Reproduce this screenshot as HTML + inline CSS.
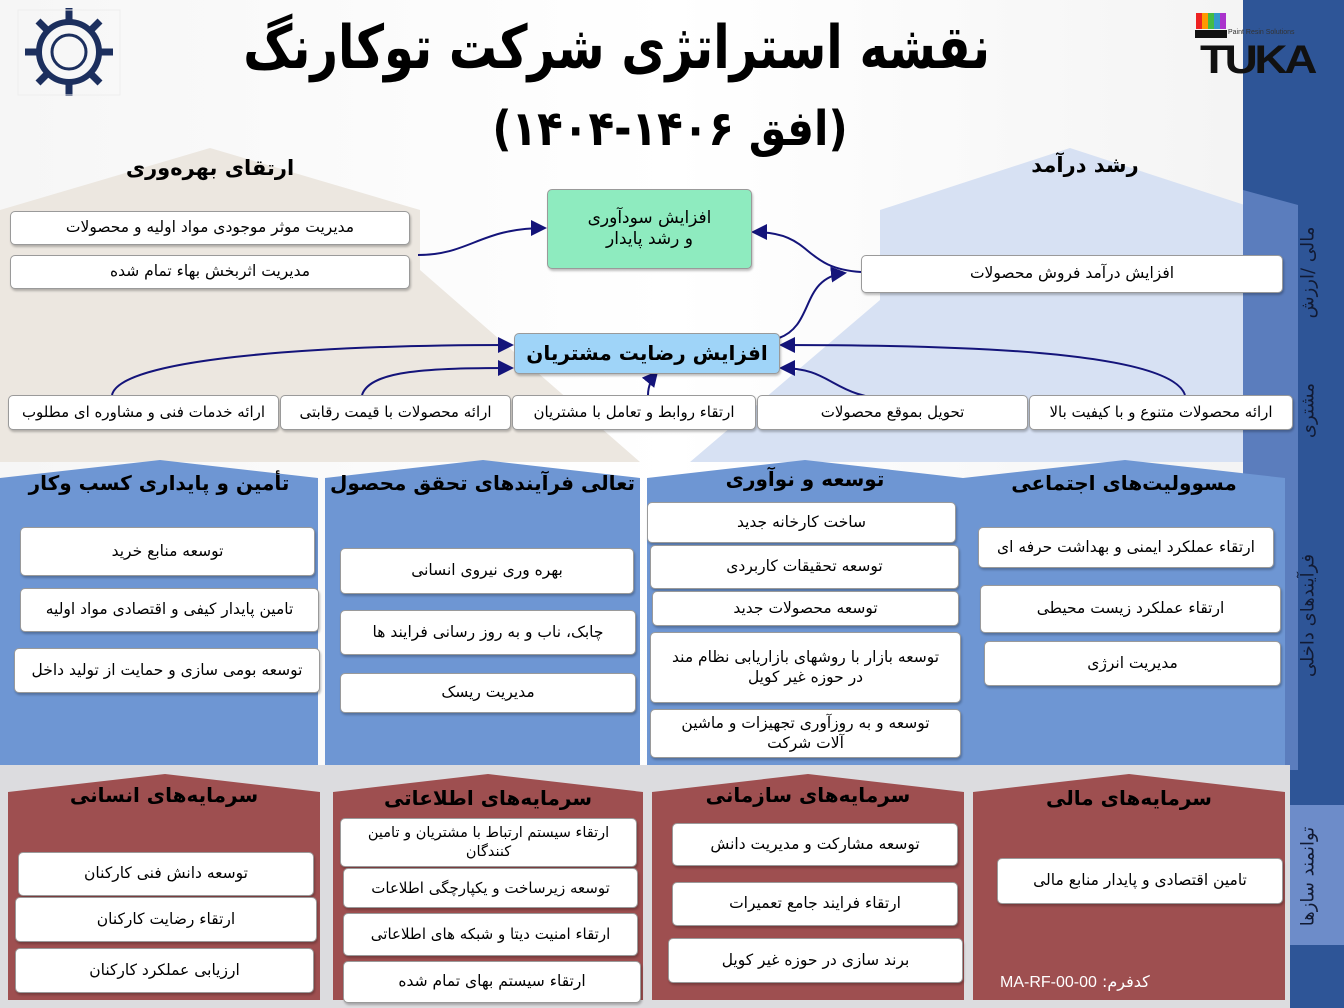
<!DOCTYPE html>
<html><head><meta charset="utf-8"><style>
body{margin:0;width:1344px;height:1008px;overflow:hidden;position:relative;font-family:"DejaVu Sans",sans-serif;background:linear-gradient(90deg,#f6f6f6,#ffffff 50%,#f2f2f2);}
.b{position:absolute;background:#fff;border:1px solid #9a9a9a;border-radius:5px;box-shadow:1px 2px 2px rgba(0,0,0,.25);display:flex;align-items:center;justify-content:center;text-align:center;direction:rtl;font-size:15.5px;color:#000;line-height:1.25;box-sizing:border-box;padding:0 4px;}
.h{position:absolute;direction:rtl;text-align:center;font-weight:bold;color:#000;white-space:nowrap;}
.v{position:absolute;transform:rotate(-90deg);transform-origin:center;white-space:nowrap;direction:rtl;font-size:18px;color:#111a33;}
</style></head><body>
<svg width="1344" height="1008" style="position:absolute;left:0;top:0">
<polygon points="0,210 210,148 420,210 420,270 640,462 0,462" fill="#ece7e0"/>
<polygon points="880,210 1070,148 1260,210 1260,462 690,462 880,300" fill="#d7e1f3"/>
<rect x="1243" y="0" width="101" height="1008" fill="#2e5597"/>
<polygon points="1243,190 1298,205 1298,770 1243,770" fill="#5b7dbd"/>
<rect x="1290" y="805" width="54" height="140" fill="#6d8cc9"/>
<rect x="0" y="765" width="1290" height="243" fill="#dcdcdf"/>
<polygon points="0,478 160,460 318,478 318,765 0,765" fill="#6e96d3"/>
<polygon points="325,478 483,460 640,478 640,765 325,765" fill="#6e96d3"/>
<polygon points="647,478 805,460 963,478 963,765 647,765" fill="#6e96d3"/>
<polygon points="963,478 1125,460 1285,478 1285,765 963,765" fill="#6e96d3"/>
<polygon points="8,792 165,774 320,792 320,1000 8,1000" fill="#9e4f50"/>
<polygon points="333,792 488,774 643,792 643,1000 333,1000" fill="#9e4f50"/>
<polygon points="652,792 808,774 964,792 964,1000 652,1000" fill="#9e4f50"/>
<polygon points="973,792 1129,774 1285,792 1285,1000 973,1000" fill="#9e4f50"/>
<defs><marker id="a" markerWidth="8" markerHeight="8" refX="7" refY="4" orient="auto"><path d="M0,0 L8,4 L0,8 z" fill="#14147a"/></marker></defs>
<g stroke="#14147a" stroke-width="2" fill="none" marker-end="url(#a)">
<path d="M418,255 C470,255 480,228 545,228"/>
<path d="M861,272 C800,268 815,232 753,232"/>
<path d="M779,338 C815,325 800,278 845,273"/>
<path d="M112,395 C120,360 300,345 512,345"/>
<path d="M362,395 C370,370 430,368 512,368"/>
<path d="M648,395 C648,385 652,378 657,372"/>
<path d="M1185,395 C1170,350 950,345 781,345"/>
<path d="M898,400 C830,398 835,368 781,368"/>
</g>
<g transform="translate(69,52)" fill="none" stroke="#1c2f5e" stroke-width="6">
<circle r="30"/><circle r="17" stroke-width="3"/>
<path d="M0,-44V-30M0,44V30M-44,0H-30M44,0H30M-31,-31L-21,-21M31,31L21,21M-31,31L-21,21M31,-31L21,-21" stroke-width="7"/>
</g>
<rect x="18" y="10" width="102" height="85" fill="none" stroke="#eee"/>
<rect x="1196" y="13" width="6" height="16" fill="#e22"/><rect x="1202" y="13" width="6" height="16" fill="#f90"/><rect x="1208" y="13" width="6" height="16" fill="#4b4"/><rect x="1214" y="13" width="6" height="16" fill="#39c"/><rect x="1220" y="13" width="6" height="16" fill="#a3c"/>
<rect x="1195" y="30" width="32" height="8" fill="#111"/>
</svg>
<div style="position:absolute;left:1200px;top:38px;font:bold 40px 'Liberation Sans',sans-serif;color:#111;letter-spacing:-3px;transform:scaleX(1.15);transform-origin:left">TUKA</div>
<div style="position:absolute;left:1228px;top:29px;font:7px 'Liberation Sans',sans-serif;color:#333">Paint Resin Solutions</div>

<div class="h" style="left:270px;top:20px;width:720px;font-size:48px;transform:scaleY(1.25)">نقشه استراتژی شرکت توکارنگ</div>
<div class="h" style="left:440px;top:104px;width:460px;font-size:42px;transform:scaleY(1.15)">(افق ۱۴۰۶-۱۴۰۴)</div>
<div class="h" style="left:60px;top:156px;width:300px;font-size:21px">ارتقای بهره‌وری</div>
<div class="h" style="left:935px;top:153px;width:300px;font-size:21px">رشد درآمد</div>

<div class="b" style="left:10px;top:211px;width:400px;height:34px">مدیریت موثر موجودی مواد اولیه و محصولات</div>
<div class="b" style="left:10px;top:255px;width:400px;height:34px">مدیریت اثربخش بهاء تمام شده</div>
<div class="b" style="left:547px;top:189px;width:205px;height:80px;background:#8eebbf;font-size:17px">افزایش سودآوری<br>و رشد پایدار</div>
<div class="b" style="left:861px;top:255px;width:422px;height:38px">افزایش درآمد فروش محصولات</div>
<div class="b" style="left:514px;top:333px;width:266px;height:41px;background:#9fd4f8;font-size:20px;font-weight:bold">افزایش رضایت مشتریان</div>
<div class="b" style="left:8px;top:395px;width:271px;height:35px;font-size:15px">ارائه خدمات فنی و مشاوره ای مطلوب</div>
<div class="b" style="left:280px;top:395px;width:231px;height:35px;font-size:15px">ارائه محصولات با قیمت رقابتی</div>
<div class="b" style="left:512px;top:395px;width:244px;height:35px;font-size:15px">ارتقاء روابط و تعامل با مشتریان</div>
<div class="b" style="left:757px;top:395px;width:271px;height:35px;font-size:15px">تحویل بموقع محصولات</div>
<div class="b" style="left:1029px;top:395px;width:264px;height:35px;font-size:15px">ارائه محصولات متنوع و با کیفیت بالا</div>

<div class="h" style="left:0;top:471px;width:318px;font-size:20px">تأمین و پایداری کسب وکار</div>
<div class="h" style="left:325px;top:471px;width:315px;font-size:20px">تعالی فرآیندهای تحقق محصول</div>
<div class="h" style="left:647px;top:467px;width:316px;font-size:20px">توسعه و نوآوری</div>
<div class="h" style="left:963px;top:471px;width:322px;font-size:20px">مسوولیت‌های اجتماعی</div>

<div class="b" style="left:20px;top:527px;width:295px;height:49px">توسعه منابع خرید</div>
<div class="b" style="left:20px;top:588px;width:299px;height:44px">تامین پایدار کیفی و اقتصادی مواد اولیه</div>
<div class="b" style="left:14px;top:648px;width:306px;height:45px">توسعه بومی سازی و حمایت از تولید داخل</div>
<div class="b" style="left:340px;top:548px;width:294px;height:46px">بهره وری نیروی انسانی</div>
<div class="b" style="left:340px;top:610px;width:296px;height:45px">چابک، ناب و به روز رسانی فرایند ها</div>
<div class="b" style="left:340px;top:673px;width:296px;height:40px">مدیریت ریسک</div>
<div class="b" style="left:647px;top:502px;width:309px;height:41px">ساخت کارخانه جدید</div>
<div class="b" style="left:650px;top:545px;width:309px;height:44px">توسعه تحقیقات کاربردی</div>
<div class="b" style="left:652px;top:591px;width:307px;height:35px">توسعه محصولات جدید</div>
<div class="b" style="left:650px;top:632px;width:311px;height:71px">توسعه بازار با روشهای بازاریابی نظام مند<br>در حوزه غیر کویل</div>
<div class="b" style="left:650px;top:709px;width:311px;height:49px">توسعه و به روزآوری تجهیزات و ماشین<br>آلات شرکت</div>
<div class="b" style="left:978px;top:527px;width:296px;height:41px">ارتقاء عملکرد ایمنی و بهداشت حرفه ای</div>
<div class="b" style="left:980px;top:585px;width:301px;height:48px">ارتقاء عملکرد زیست محیطی</div>
<div class="b" style="left:984px;top:641px;width:297px;height:45px">مدیریت انرژی</div>

<div class="h" style="left:8px;top:783px;width:312px;font-size:20px">سرمایه‌های انسانی</div>
<div class="h" style="left:333px;top:786px;width:310px;font-size:20px">سرمایه‌های اطلاعاتی</div>
<div class="h" style="left:652px;top:783px;width:312px;font-size:20px">سرمایه‌های سازمانی</div>
<div class="h" style="left:973px;top:786px;width:312px;font-size:20px">سرمایه‌های مالی</div>

<div class="b" style="left:18px;top:852px;width:296px;height:44px">توسعه  دانش فنی کارکنان</div>
<div class="b" style="left:15px;top:897px;width:302px;height:45px">ارتقاء رضایت کارکنان</div>
<div class="b" style="left:15px;top:948px;width:299px;height:45px">ارزیابی عملکرد کارکنان</div>
<div class="b" style="left:340px;top:818px;width:297px;height:49px;font-size:14.5px">ارتقاء سیستم ارتباط با مشتریان و تامین<br>کنندگان</div>
<div class="b" style="left:343px;top:868px;width:295px;height:40px;font-size:15px">توسعه زیرساخت و یکپارچگی اطلاعات</div>
<div class="b" style="left:343px;top:913px;width:295px;height:43px;font-size:15px">ارتقاء امنیت دیتا و شبکه های اطلاعاتی</div>
<div class="b" style="left:343px;top:961px;width:298px;height:42px">ارتقاء سیستم بهای تمام شده</div>
<div class="b" style="left:672px;top:823px;width:286px;height:43px">توسعه مشارکت و مدیریت دانش</div>
<div class="b" style="left:672px;top:882px;width:286px;height:44px">ارتقاء فرایند جامع تعمیرات</div>
<div class="b" style="left:668px;top:938px;width:295px;height:45px">برند سازی در حوزه غیر کویل</div>
<div class="b" style="left:997px;top:858px;width:286px;height:46px">تامین اقتصادی و پایدار منابع مالی</div>
<div style="position:absolute;left:1000px;top:972px;font-size:16px;color:#fff;direction:rtl;white-space:nowrap">کدفرم: <span style="font-family:'Liberation Sans'">MA-RF-00-00</span></div>

<div class="v" style="left:1258px;top:262px;width:100px;text-align:center">مالی /ارزش</div>
<div class="v" style="left:1268px;top:400px;width:80px;text-align:center">مشتری</div>
<div class="v" style="left:1243px;top:605px;width:130px;text-align:center">فرآیندهای داخلی</div>
<div class="v" style="left:1253px;top:866px;width:110px;text-align:center">توانمند سازها</div>
</body></html>
